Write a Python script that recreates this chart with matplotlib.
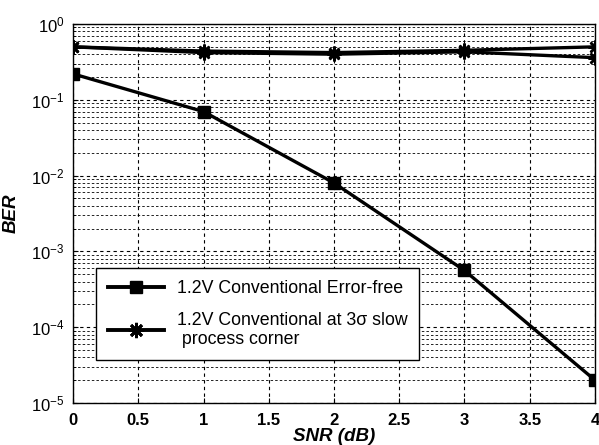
import matplotlib
matplotlib.use("Agg")
import matplotlib.pyplot as plt
from matplotlib.lines import Line2D
import numpy as np

plt.rcParams['font.family'] = ['Liberation Sans', 'DejaVu Sans']
plt.rcParams['mathtext.fontset'] = 'custom'
plt.rcParams['mathtext.rm'] = 'Liberation Sans:bold'
plt.rcParams['mathtext.it'] = 'Liberation Sans:bold:italic'
plt.rcParams['mathtext.bf'] = 'Liberation Sans:bold'

snr = [0, 1, 2, 3, 4]
ber_error_free = [0.22, 0.07, 0.008, 0.00056, 0.00002]
ber_slow_a = [0.5, 0.44, 0.42, 0.45, 0.5]
ber_slow_b = [0.5, 0.42, 0.40, 0.43, 0.36]
xticks = [0, 0.5, 1, 1.5, 2, 2.5, 3, 3.5, 4]
xticklabels = ['0', '0.5', '1', '1.5', '2', '2.5', '3', '3.5', '4']
legend_labels = ['1.2V Conventional Error-free',
                 '1.2V Conventional at 3\u03c3 slow\n process corner']

star = (8, 2, 0)

fig = plt.figure(figsize=(5.99, 4.45), dpi=100)
ax = fig.add_axes([0.1219, 0.0944, 0.8714, 0.8516])

ax.semilogy(snr, ber_slow_a, color='black', lw=2.4, marker=star, ms=10, mew=1.8)
ax.semilogy(snr, ber_slow_b, color='black', lw=2.4, marker=star, ms=10, mew=1.8)
ax.semilogy(snr, ber_error_free, color='black', lw=2.4, marker='s', ms=9)

ax.set_xlim(0, 4)
ax.set_ylim(1e-5, 1)
ax.set_xticks(xticks)
ax.set_xticklabels(xticklabels)
ax.set_yticks([1e-5, 1e-4, 1e-3, 1e-2, 1e-1, 1])
ax.grid(True, which='major', color='black', linestyle=(0, (3, 3)), linewidth=0.8)
ax.grid(True, which='minor', axis='y', color='black', linestyle=(0, (3, 2.5)), linewidth=0.6)
ax.tick_params(axis='both', which='both', direction='in', labelsize=12)
ax.tick_params(axis='x', pad=7)
ax.tick_params(axis='y', pad=6)
for lab in ax.get_xticklabels():
    lab.set_fontweight('bold')
for sp in ax.spines.values():
    sp.set_linewidth(1.0)

ax.set_xlabel('SNR (dB)', fontsize=13.5, fontweight='bold', fontstyle='italic', labelpad=0)
ax.set_ylabel('BER', fontsize=13.5, fontweight='bold', fontstyle='italic', labelpad=8)

handles = [Line2D([], [], color='black', lw=2.8, marker='s', ms=9),
           Line2D([], [], color='black', lw=2.8, marker=star, ms=11, mew=2)]
leg = ax.legend(handles, legend_labels, loc='lower left', bbox_to_anchor=(0.027, 0.09),
                fontsize=12.8, frameon=True, fancybox=False, edgecolor='black',
                framealpha=1, handlelength=3.2, handletextpad=0.7,
                labelspacing=0.85, borderpad=0.65)
leg.get_frame().set_linewidth(1.0)

fig.savefig('out.png', dpi=100)
